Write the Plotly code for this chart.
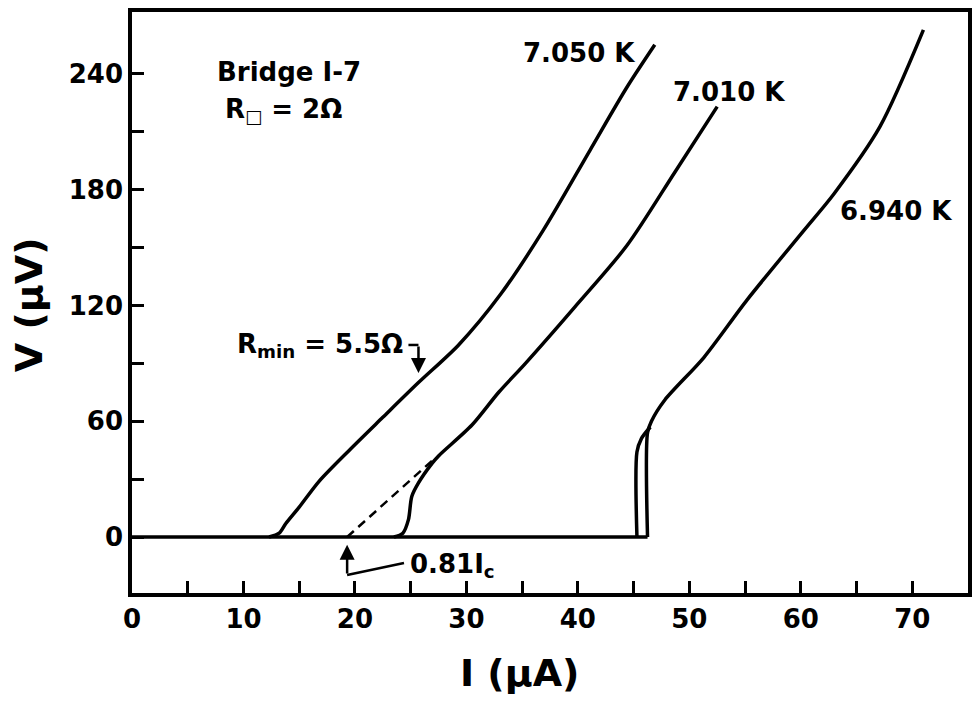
import plotly.graph_objects as go

# ---- data ----
I_base = [0, 46.25]
V_base = [0, 0]

I_7050 = [12.3, 13.2, 13.8, 15.0, 16.8, 19.5, 22.5, 25.7, 29.3, 33.1, 36.9, 41.1, 44.4, 46.9]
V_7050 = [0, 2, 7, 15.5, 29, 45, 62, 80, 99.5, 126, 159, 200.5, 233, 255]

I_7010 = [23.5, 24.3, 24.8, 25.1, 25.7, 26.9, 27.5, 30.5, 32.9, 35.3, 39.7, 44.4, 48.7, 52.5]
V_7010 = [0, 2, 9, 21, 28, 38, 42, 58, 75, 90, 119, 151, 189, 223]

I_6940 = [46.25, 46.25, 46.6, 47.8, 51.3, 55.2, 60.3, 63.0, 67.1, 71.0]
V_6940 = [0, 54, 60, 71, 93, 123, 159, 178, 212.6, 262.7]

I_6940_ret = [45.3, 45.3, 45.7, 46.5]
V_6940_ret = [0, 44, 51, 57]

I_dash = [19.3, 27.2]
V_dash = [0, 41]

x_ticks = [0, 10, 20, 30, 40, 50, 60, 70]
x_minor = [5, 15, 25, 35, 45, 55, 65]
y_ticks = [0, 60, 120, 180, 240]
y_minor = [30, 90, 150, 210]

FONT = "DejaVu Sans"
LW = 3.5

fig = go.Figure()
fig.add_trace(go.Scatter(x=I_base, y=V_base, mode="lines", line=dict(color="black", width=LW),
                         showlegend=False, hoverinfo="skip"))
for xs, ys in [(I_6940, V_6940), (I_6940_ret, V_6940_ret), (I_7050, V_7050), (I_7010, V_7010)]:
    fig.add_trace(go.Scatter(x=xs, y=ys, mode="lines",
                             line=dict(color="black", width=LW, shape="spline", smoothing=0.8),
                             showlegend=False, hoverinfo="skip"))
fig.add_trace(go.Scatter(x=I_dash, y=V_dash, mode="lines", line=dict(color="black", width=2.5, dash="9px,6px"),
                         showlegend=False, hoverinfo="skip"))

tf = dict(family=FONT, size=26, color="black", weight="bold")
ann = []
def txt(x, y, t, size=26, xanchor="center", yanchor="middle"):
    ann.append(dict(x=x, y=y, xref="x", yref="y", text=t, showarrow=False, xanchor=xanchor, yanchor=yanchor,
                    font=dict(family=FONT, size=size, color="black", weight="bold")))

txt(40.1, 251, "7.050 K")
txt(53.6, 230.5, "7.010 K")
txt(68.5, 169, "6.940 K")
txt(14.1, 241, "Bridge I-7")
txt(13.6, 221, "R<sub>□</sub> = 2Ω")
txt(16.9, 99, "R<sub>min</sub> = 5.5Ω")
txt(24.8, -15, "0.81I<sub>c</sub>", xanchor="left")

# arrows
ann.append(dict(x=25.7, y=85, ax=25.7, ay=99.5, xref="x", yref="y", axref="x", ayref="y", text="",
                showarrow=True, arrowhead=2, arrowsize=1.2, arrowwidth=2.5, arrowcolor="black"))
ann.append(dict(x=19.3, y=-4, ax=19.3, ay=-19.7, xref="x", yref="y", axref="x", ayref="y", text="",
                showarrow=True, arrowhead=2, arrowsize=1.2, arrowwidth=2.5, arrowcolor="black"))

# axis titles
ann.append(dict(x=-0.124, y=0.496, xref="paper", yref="paper", xanchor="center", yanchor="middle",
                text="V (μV)", showarrow=False, textangle=-90,
                font=dict(family=FONT, size=38, color="black", weight="bold")))
ann.append(dict(x=0.463, y=-0.138, xref="paper", yref="paper", xanchor="center", yanchor="middle",
                text="I (μA)", showarrow=False,
                font=dict(family=FONT, size=38, color="black", weight="bold")))

shapes = [
    dict(type="line", xref="x", yref="y", x0=24.8, y0=99.5, x1=25.7, y1=99.5, line=dict(color="black", width=2.5)),
    dict(type="line", xref="x", yref="y", x0=24.4, y0=-13.5, x1=19.3, y1=-19.7, line=dict(color="black", width=2.5)),
]

fig.update_layout(
    width=976, height=701,
    margin=dict(l=132, r=4, t=12, b=108),
    plot_bgcolor="white", paper_bgcolor="white",
    annotations=ann, shapes=shapes,
    xaxis=dict(range=[0, 75], tickvals=x_ticks, ticks="inside", ticklen=12, tickwidth=2.5, tickcolor="black",
               minor=dict(tickvals=x_minor, ticks="inside", ticklen=12, tickwidth=2.5, tickcolor="black"),
               showline=True, mirror=True, linewidth=LW, linecolor="black", showgrid=False, zeroline=False,
               tickfont=tf, ticklabelstandoff=0),
    yaxis=dict(range=[-29, 272], tickvals=y_ticks, ticks="inside", ticklen=12, tickwidth=2.5, tickcolor="black",
               minor=dict(tickvals=y_minor, ticks="inside", ticklen=12, tickwidth=2.5, tickcolor="black"),
               showline=True, mirror=True, linewidth=LW, linecolor="black", showgrid=False, zeroline=False,
               tickfont=tf),
)

fig.write_html("out.html")
